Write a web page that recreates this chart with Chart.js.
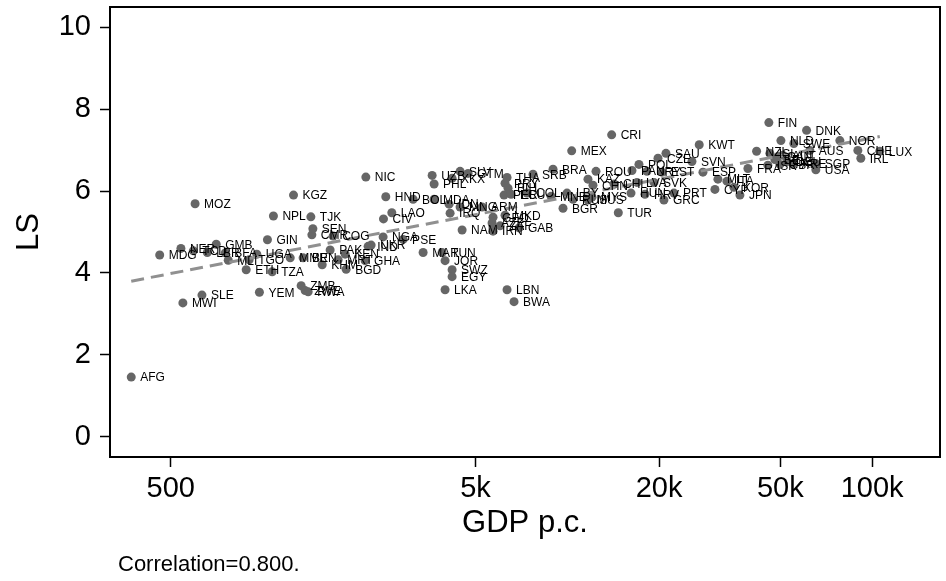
<!DOCTYPE html>
<html>
<head>
<meta charset="utf-8">
<script src="https://cdn.jsdelivr.net/npm/chart.js@4.4.1/dist/chart.umd.min.js"></script>
<style>
  html, body { margin: 0; padding: 0; background: #fff; }
</style>
</head>
<body>
<canvas id="chart" width="946" height="581"></canvas>
<script>
// Países (códigos ISO3), PIB per capita e satisfação com a vida (LS)
const countries = ['AFG','MDG','NER','MWI','TCD','MOZ','SLE','LBR','GMB','BFA','MLI','ETH','TGO','UGA','YEM','GIN','TZA','NPL','MMR','KGZ',
  'ZMB','BEN','ZWE','RWA','TJK','CMR','SEN','KHM','PAK','COG','MRT','KEN','BGD','GHA','NIC','IND','UKR','NGA','CIV','HND',
  'LAO','PSE','BOL','MAR','UZB','PHL','MDA','TUN','JOR','LKA','IDN','IRQ','SWZ','EGY','XKX','SLV','MNG','NAM','GTM','ARM',
  'AZE','IRN','GEO','ZAF','PER','MKD','PRY','THA','LBN','BIH','ECU','BWA','GAB','COL','SRB','MNE','BRA','BGR','LBY','MEX',
  'RUS','KAZ','MUS','MYS','CHN','ROU','CRI','CHL','TUR','HUN','PAN','LVA','POL','HRV','URY','SVK','CZE','EST','GRC','SAU',
  'PRT','SVN','KWT','ESP','CYP','MLT','ITA','KOR','JPN','FRA','NZL','ISR','FIN','ISL','BEL','CAN','GBR','NLD','AUT','DEU',
  'ARE','SWE','DNK','AUS','SGP','USA','NOR','CHE','IRL','LUX'];

const gdpPc = [371,460,540,548,593,601,633,659,705,755,772,884,904,958,977,1038,1076,1086,1233,1264,
  1339,1359,1380,1412,1441,1452,1463,1570,1667,1705,1771,1867,1881,2171,2183,2221,2272,2487,2494,2538,
  2656,2893,3120,3365,3602,3656,3656,3884,3972,3972,4094,4125,4188,4188,4188,4449,4449,4517,4726,5253,
  5664,5707,5707,6016,6200,6247,6247,6343,6343,6391,6537,6687,6944,7379,7718,8843,8977,9681,9977,10337,
  10440,11690,11690,12050,12140,12420,13980,14230,14700,16180,16300,16920,17180,17980,18250,19250,19840,20440,20750,21070,
  22380,25640,27090,27860,30500,31200,33400,35200,36840,39130,41780,45500,45840,46190,47970,49080,49830,50210,50970,52530,
  54950,55370,60950,62480,65370,65370,78380,89780,91830,105970];

const lifeSat = [1.46,4.44,4.60,3.27,4.54,5.69,3.46,4.50,4.70,4.49,4.31,4.08,4.32,4.46,3.53,4.81,4.03,5.39,4.37,5.90,
  3.69,4.37,3.57,3.54,5.37,4.93,5.08,4.20,4.56,4.90,4.32,4.46,4.09,4.30,6.34,4.65,4.68,4.88,5.32,5.86,
  5.47,4.82,5.80,4.50,6.38,6.17,5.80,4.50,4.30,3.59,5.68,5.46,4.08,3.91,6.31,6.48,5.61,5.05,6.43,5.61,
  5.22,5.02,5.36,5.15,5.90,5.41,6.19,6.33,3.59,6.07,5.92,3.30,5.10,5.95,6.41,5.87,6.53,5.58,5.95,6.98,
  5.80,6.29,5.78,5.85,6.14,6.48,7.37,6.17,5.47,5.95,6.50,6.21,6.65,5.92,6.48,6.21,6.80,6.46,5.78,6.92,
  5.95,6.72,7.13,6.46,6.04,6.29,6.24,6.09,5.90,6.55,6.97,6.63,7.67,6.92,6.77,6.84,6.65,7.23,6.87,6.72,
  6.67,7.16,7.48,6.99,6.67,6.52,7.23,6.99,6.80,6.97];

// Reta ajustada (extremos)
const fitGdp = [371, 105970];
const fitLs = [3.80, 7.33];

// Eixos
const xTickValues = [500, 5000, 20000, 50000, 100000];
const xTickLabels = ['500', '5k', '20k', '50k', '100k'];
const yTickValues = [0, 2, 4, 6, 8, 10];
const correlationText = 'Correlation=0.800.';

const FONT = "'Liberation Sans', Arial, Helvetica, sans-serif";
Chart.defaults.font.family = FONT;
Chart.defaults.color = '#000';

// Rótulos dos países ao lado de cada ponto
const pointLabels = {
    id: 'pointLabels',
    afterDatasetsDraw(chart) {
        const ctx = chart.ctx;
        const meta = chart.getDatasetMeta(0);
        ctx.save();
        ctx.font = '12px ' + FONT;
        ctx.fillStyle = '#000';
        ctx.textBaseline = 'middle';
        ctx.textAlign = 'left';
        meta.data.forEach((pt, i) => {
            ctx.fillText(countries[i], pt.x + 9, pt.y + 1);
        });
        ctx.restore();
    }
};

// Moldura do gráfico e nota de rodapé
const frameAndNote = {
    id: 'frameAndNote',
    afterDraw(chart) {
        const { ctx, chartArea } = chart;
        ctx.save();
        ctx.strokeStyle = '#000';
        ctx.lineWidth = 2;
        ctx.strokeRect(chartArea.left, chartArea.top, chartArea.right - chartArea.left, chartArea.bottom - chartArea.top);
        ctx.font = '22px ' + FONT;
        ctx.fillStyle = '#000';
        ctx.textBaseline = 'middle';
        ctx.fillText(correlationText, 118, 565);
        ctx.restore();
    }
};

// Sem margem extra para os rótulos das pontas
function noEdgePadding(scale) {
    scale.paddingTop = 0;
    scale.paddingBottom = 0;
    scale.paddingLeft = 0;
    scale.paddingRight = 0;
}

new Chart(document.getElementById('chart').getContext('2d'), {
    data: {
        datasets: [{
            type: 'scatter',
            data: gdpPc.map((g, i) => ({ x: g, y: lifeSat[i] })),
            backgroundColor: '#666',
            borderWidth: 0,
            pointRadius: 4.5,
            order: 1
        }, {
            type: 'line',
            data: fitGdp.map((g, i) => ({ x: g, y: fitLs[i] })),
            borderColor: '#909090',
            borderWidth: 3,
            borderDash: [13, 7],
            pointRadius: 0,
            fill: false,
            order: 0
        }]
    },
    options: {
        responsive: false,
        animation: false,
        devicePixelRatio: 1,
        layout: { padding: { top: 7, right: 6, left: 0, bottom: 0 } },
        plugins: {
            legend: { display: false },
            tooltip: { enabled: false }
        },
        scales: {
            x: {
                type: 'logarithmic',
                min: 316,
                max: 167000,
                afterBuildTicks: (scale) => {
                    scale.ticks = xTickValues.map(v => ({ value: v }));
                },
                afterFit: (scale) => { scale.height = 124; noEdgePadding(scale); },
                border: { display: false },
                grid: {
                    drawOnChartArea: false,
                    drawTicks: true,
                    tickLength: 10,
                    tickColor: '#000',
                    tickWidth: 1.5
                },
                ticks: {
                    autoSkip: false,
                    maxRotation: 0,
                    padding: 5,
                    font: { size: 29 },
                    color: '#000',
                    callback: function(value) {
                        const idx = xTickValues.indexOf(value);
                        return idx >= 0 ? xTickLabels[idx] : '';
                    }
                },
                title: {
                    display: true,
                    text: 'GDP p.c.',
                    font: { size: 31 },
                    color: '#000',
                    padding: { top: 0, bottom: 39 }
                }
            },
            y: {
                type: 'linear',
                min: -0.49,
                max: 10.49,
                afterBuildTicks: (scale) => {
                    scale.ticks = yTickValues.map(v => ({ value: v }));
                },
                afterFit: (scale) => { scale.width = 110; noEdgePadding(scale); },
                border: { display: false },
                grid: {
                    drawOnChartArea: false,
                    drawTicks: true,
                    tickLength: 10,
                    tickColor: '#000',
                    tickWidth: 1.5
                },
                ticks: {
                    padding: 9,
                    font: { size: 29 },
                    color: '#000'
                },
                title: {
                    display: true,
                    text: 'LS',
                    font: { size: 31 },
                    color: '#000',
                    padding: { top: 11, bottom: 0 }
                }
            }
        }
    },
    plugins: [pointLabels, frameAndNote]
});
</script>
</body>
</html>
